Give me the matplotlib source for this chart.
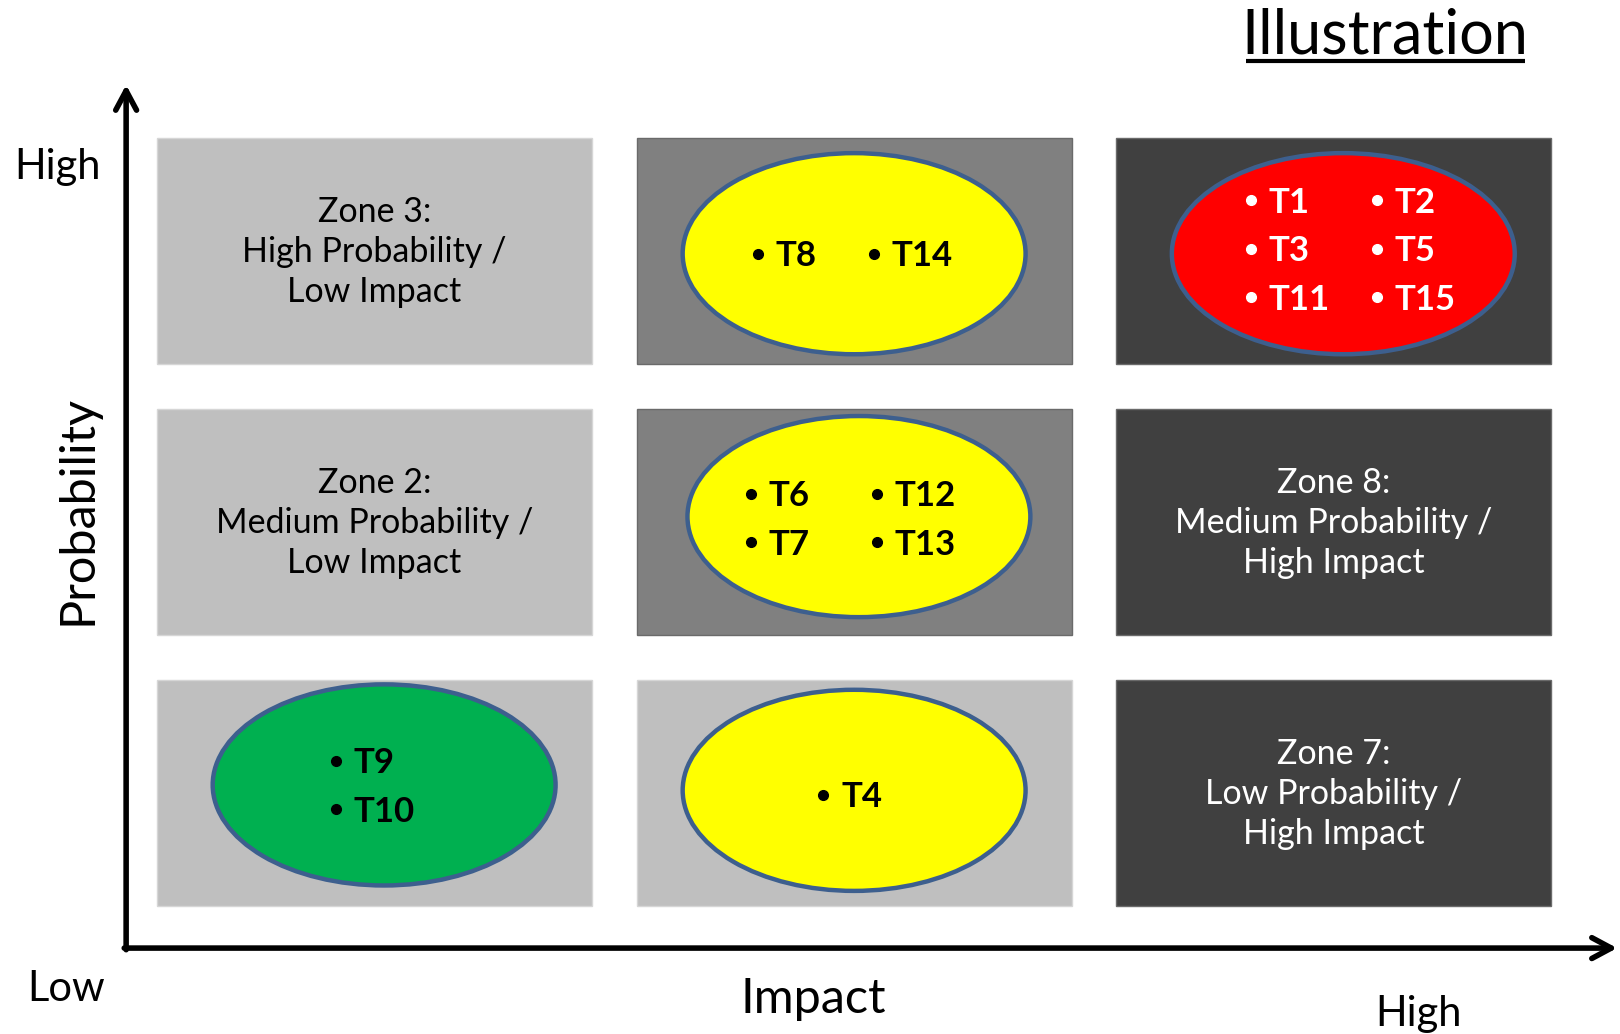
import matplotlib
matplotlib.use('Agg')
import matplotlib.pyplot as plt
from matplotlib.patches import Rectangle, Ellipse

plt.rcParams['font.family'] = ['Lato', 'DejaVu Sans']

# impact runs left -> right (col 0..2), probability bottom -> top (row 0..2)
zone_cols = [0, 0, 0, 1, 1, 1, 2, 2, 2]
zone_rows = [0, 1, 2, 0, 1, 2, 0, 1, 2]
zone_fill = ['#BFBFBF', '#BFBFBF', '#BFBFBF',
             '#BFBFBF', '#808080', '#808080',
             '#404040', '#404040', '#404040']
zone_text = [None,
             'Zone 2:\nMedium Probability /\nLow Impact',
             'Zone 3:\nHigh Probability /\nLow Impact',
             None, None, None,
             'Zone 7:\nLow Probability /\nHigh Impact',
             'Zone 8:\nMedium Probability /\nHigh Impact',
             None]
zone_text_color = ['black', 'black', 'black', 'black', 'black', 'black',
                   'white', 'white', 'white']

# threat clusters drawn as ellipses inside a zone
cluster_col = [1, 2, 1, 0, 1]
cluster_row = [2, 2, 1, 0, 0]
cluster_fill = ['#FFFF00', '#FF0000', '#FFFF00', '#00B050', '#FFFF00']
cluster_ink = ['black', 'white', 'black', 'black', 'black']
cluster_items = [
    [['T8'], ['T14']],
    [['T1', 'T3', 'T11'], ['T2', 'T5', 'T15']],
    [['T6', 'T7'], ['T12', 'T13']],
    [['T9', 'T10']],
    [['T4']],
]

# layout of each cluster (cell units): ellipse nudge, first bullet column,
# gap between bullet columns, vertical shift of the list
cluster_dx = [0.0, 0.02, 0.01, 0.02, 0.0]
cluster_dy = [-0.01, -0.01, 0.02, 0.03, 0.01]
list_x0 = [-0.200, -0.192, -0.225, -0.101, -0.064]
list_gap = [0.242, 0.263, 0.263, 0.263, 0.263]
list_dy = [0.0, 0.018, -0.006, 0.0, -0.017]

fig = plt.figure(figsize=(16.2, 10.34), dpi=100)
ax = fig.add_axes([0, 0, 1, 1])
ax.set_xlim(-0.781, 2.597)
ax.set_ylim(-0.889, 2.926)
ax.axis('off')

cell_w, cell_h = 0.907, 0.834
for c, r, fc, txt, tc in zip(zone_cols, zone_rows, zone_fill, zone_text, zone_text_color):
    edge = '#D6D6D6' if fc == '#BFBFBF' else '#6A6A6A'
    ax.add_patch(Rectangle((c - cell_w / 2, r - cell_h / 2), cell_w, cell_h,
                           facecolor=fc, edgecolor=edge, lw=1))
    if txt:
        ax.text(c, r - 0.005, txt, ha='center', va='center', color=tc,
                fontsize=24.5, linespacing=1.31)

ell_w, ell_h = 0.715, 0.742
row_pitch = 0.179
half_cap = 0.046   # half the cap height of the item labels
name_gap = 0.0367  # bullet centre to label start
for i, items in enumerate(cluster_items):
    cx = cluster_col[i] + cluster_dx[i]
    cy = cluster_row[i] + cluster_dy[i]
    ink = cluster_ink[i]
    ax.add_patch(Ellipse((cx, cy), ell_w, ell_h, facecolor=cluster_fill[i],
                         edgecolor='#3D5F8E', lw=3.2, zorder=3))
    nrows = max(len(col) for col in items)
    for k, col in enumerate(items):
        bx = cx + list_x0[i] + k * list_gap[i]
        for j, name in enumerate(col):
            y = cy + list_dy[i] + ((nrows - 1) / 2 - j) * row_pitch
            ax.plot(bx, y, 'o', color=ink, markersize=7, zorder=4)
            ax.text(bx + name_gap, y - half_cap, name, ha='left', va='baseline',
                    color=ink, fontsize=25, fontweight='bold', zorder=4)

# axes arrows
x_axis_y, y_axis_x = -0.572, -0.518
arrow = dict(arrowstyle='->,head_length=1.4,head_width=0.75', lw=4,
             color='black', shrinkA=0, shrinkB=0)
ax.annotate('', xy=(2.591, x_axis_y), xytext=(y_axis_x - 0.004, x_axis_y),
            arrowprops=arrow)
ax.annotate('', xy=(y_axis_x, 2.613), xytext=(y_axis_x, x_axis_y - 0.006),
            arrowprops=arrow)

ax.text(-0.662, 2.266, 'High', ha='center', va='baseline', fontsize=30)
ax.text(-0.643, -0.768, 'Low', ha='center', va='baseline', fontsize=30)
ax.text(-0.590, 1.044, 'Probability', ha='center', va='baseline',
        rotation=90, rotation_mode='anchor', fontsize=35)
ax.text(0.9145, -0.812, 'Impact', ha='center', va='baseline', fontsize=35)
ax.text(2.176, -0.860, 'High', ha='center', va='baseline', fontsize=30)

# title, underlined
ax.text(2.107, 2.730, 'Illustration', ha='center', va='baseline', fontsize=44)
ax.plot([1.8175, 2.3994], [2.701, 2.701], color='black', lw=3,
        solid_capstyle='butt')

fig.savefig('out.png', dpi=100)
